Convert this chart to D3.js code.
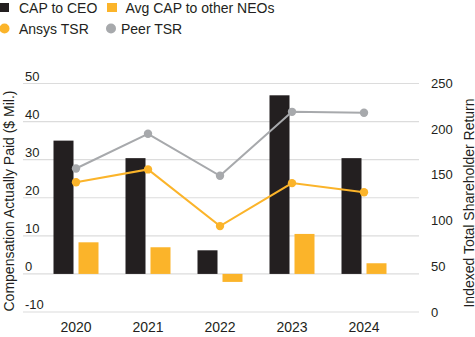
<!DOCTYPE html>
<html>
<head>
<meta charset="utf-8">
<script src="https://cdn.jsdelivr.net/npm/d3@7"></script>
<style>
  body { margin: 0; background: #fff; }
  svg text { font-family: "Liberation Sans", Arial, sans-serif; fill: #231f20; }
</style>
</head>
<body>
<svg id="chart" width="475" height="337"></svg>
<script>
// data
var years = ["2020", "2021", "2022", "2023", "2024"];
var capCeo = [35, 30.4, 6.2, 46.9, 30.4];
var capNeo = [8.3, 7.0, -2.1, 10.5, 2.8];
var ansysTsr = [142, 156, 94, 141, 131];
var peerTsr = [157, 195, 149, 219, 218];
var leftTicks = [-10, 0, 10, 20, 30, 40, 50];
var rightTicks = [0, 50, 100, 150, 200, 250];

function main() {
  var black = "#231f20", orange = "#fbb42a", grey = "#a7a9ac";

  var svg = d3.select("#chart");
  var plotL = 22, plotR = 419, plotT = 83.5, plotB = 312;

  var x = d3.scalePoint().domain(years).range([plotL, plotR - 1]).padding(0.75);
  var sub = d3.scaleBand().domain(["ceo", "neo"]).range([-22.5, 22.5]).paddingInner(0.2);
  var yL = d3.scaleLinear().domain([-10, 50]).range([plotB, plotT]);
  var yR = d3.scaleLinear().domain([0, 250]).range([plotB, plotT]);

  // gridlines + left labels
  var grid = svg.append("g");
  leftTicks.forEach(function(t) {
    grid.append("line")
      .attr("x1", plotL + 1).attr("x2", plotR)
      .attr("y1", yL(t)).attr("y2", yL(t))
      .attr("stroke", "#dcdcdc").attr("stroke-width", 1.2);
    grid.append("text")
      .attr("x", 25).attr("y", yL(t) - 3)
      .style("font-size", "13px")
      .text(t);
  });

  // right axis labels
  rightTicks.forEach(function(t) {
    svg.append("text")
      .attr("x", 431).attr("y", yR(t)).attr("dy", "0.35em")
      .style("font-size", "13px")
      .text(t);
  });

  // bars
  var bars = svg.append("g");
  years.forEach(function(yr, i) {
    var cx = x(yr);
    [["ceo", capCeo[i], black], ["neo", capNeo[i], orange]].forEach(function(b) {
      bars.append("rect")
        .attr("x", cx + sub(b[0]))
        .attr("width", sub.bandwidth())
        .attr("y", yL(Math.max(0, b[1])))
        .attr("height", Math.abs(yL(b[1]) - yL(0)))
        .attr("fill", b[2]);
    });
  });

  // TSR lines
  function drawLine(vals, col) {
    var line = d3.line()
      .x(function(d, i) { return x(years[i]); })
      .y(function(d) { return yR(d); });
    svg.append("path").datum(vals)
      .attr("d", line).attr("fill", "none")
      .attr("stroke", col).attr("stroke-width", 2);
    svg.append("g").selectAll("circle").data(vals).enter().append("circle")
      .attr("cx", function(d, i) { return x(years[i]); })
      .attr("cy", function(d) { return yR(d); })
      .attr("r", 4.2).attr("fill", col);
  }
  drawLine(peerTsr, grey);
  drawLine(ansysTsr, orange);

  // x labels
  years.forEach(function(yr) {
    svg.append("text")
      .attr("x", x(yr)).attr("y", 332)
      .attr("text-anchor", "middle")
      .style("font-size", "14px")
      .text(yr);
  });

  // axis titles
  svg.append("text")
    .attr("transform", "translate(14,201) rotate(-90)")
    .attr("text-anchor", "middle")
    .style("font-size", "14px")
    .text("Compensation Actually Paid ($ Mil.)");
  svg.append("text")
    .attr("transform", "translate(473.5,203) rotate(-90)")
    .attr("text-anchor", "middle")
    .style("font-size", "14px")
    .text("Indexed Total Shareholder Return");

  // legend
  var legend = svg.append("g");
  legend.append("rect").attr("x", 0).attr("y", 3).attr("width", 9).attr("height", 9).attr("fill", black);
  legend.append("text").attr("x", 19).attr("y", 12.5).style("font-size", "14px").text("CAP to CEO");
  legend.append("rect").attr("x", 107).attr("y", 3).attr("width", 10).attr("height", 9).attr("fill", orange);
  legend.append("text").attr("x", 125.5).attr("y", 12.5).style("font-size", "14px").text("Avg CAP to other NEOs");
  legend.append("circle").attr("cx", 4.5).attr("cy", 28.5).attr("r", 5).attr("fill", orange);
  legend.append("text").attr("x", 19).attr("y", 33.5).style("font-size", "14px").text("Ansys TSR");
  legend.append("circle").attr("cx", 111).attr("cy", 28.5).attr("r", 5).attr("fill", grey);
  legend.append("text").attr("x", 121).attr("y", 33.5).style("font-size", "14px").text("Peer TSR");
}
main();
</script>
</body>
</html>
